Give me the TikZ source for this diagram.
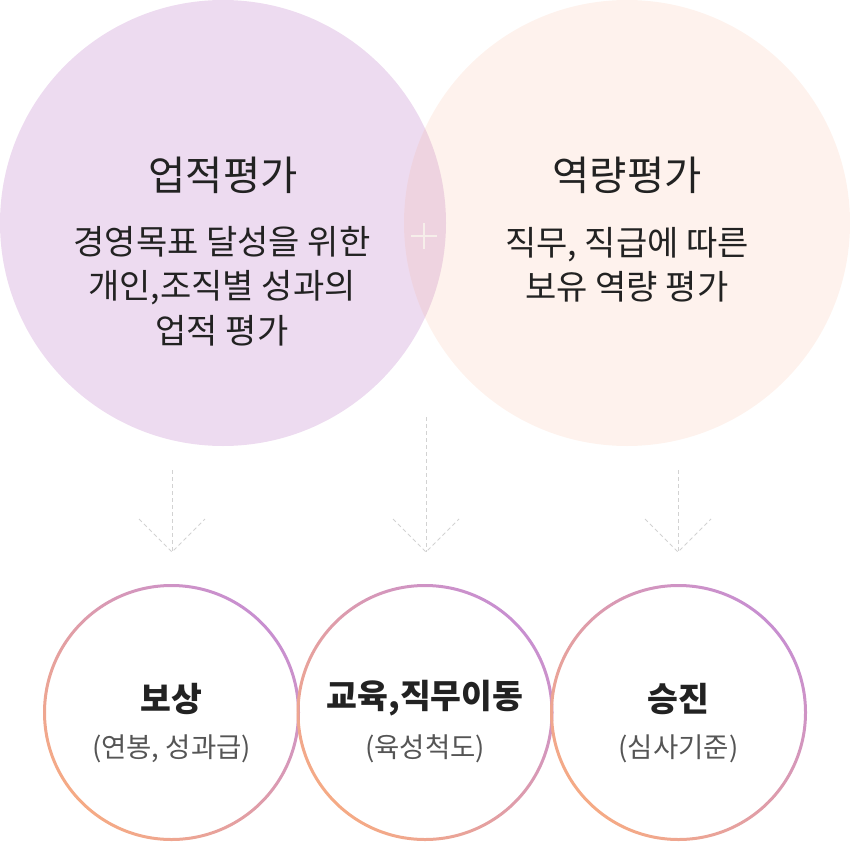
\documentclass[tikz,border=0pt]{standalone}
\usepackage{fontspec}
\newfontfamily\kr{Noto Sans CJK KR}
\usetikzlibrary{calc}
\definecolor{purp}{HTML}{C88FD0}
\definecolor{oran}{HTML}{F5AA85}
\definecolor{arrowgray}{HTML}{D2D2D2}
\definecolor{plusc}{HTML}{F6EEEA}
\definecolor{titlec}{HTML}{222222}
\definecolor{subc}{HTML}{555555}
\tikzset{
  bigtitle/.style={font=\kr\fontsize{40.5}{44}\selectfont, text=titlec, inner sep=0pt},
  bigbody/.style={font=\kr\fontsize{34}{44.5}\selectfont, text=titlec, align=center, inner sep=0pt},
  smalltitle/.style={font=\kr\bfseries\fontsize{33.5}{36}\selectfont, text=titlec, inner sep=0pt},
  smallsub/.style={font=\kr\fontsize{27.5}{30}\selectfont, text=subc, inner sep=0pt},
  dasharrow/.style={draw=arrowgray, line width=1pt, dash pattern=on 4pt off 3pt},
  ring/.style={even odd rule, top color=purp, bottom color=oran, shading angle=-45},
}
\begin{document}
\begin{tikzpicture}[x=1pt,y=-1pt]
\useasboundingbox (0,0) rectangle (850,842);
% big circles
\coordinate (L) at (223,223);
\coordinate (R) at (627,223);
\fill[purp, opacity=0.32] (L) circle (223);
\fill[oran, opacity=0.15] (R) circle (223);
% plus
\coordinate (P) at (424,236);
\draw[plusc, line width=2pt] ($(P)+(-13,0)$) -- ($(P)+(13,0)$) ($(P)+(0,-13)$) -- ($(P)+(0,13)$);
% texts top
\node[bigtitle] (t1) at (223,175) {업적평가};
\node[bigbody] (b1) at (222,286) {경영목표 달성을 위한\\개인,조직별 성과의\\업적 평가};
\node[bigtitle] (t2) at (627,175) {역량평가};
\node[bigbody] (b2) at (627,264.5) {직무, 직급에 따른\\보유 역량 평가};
% arrows
\coordinate (a1s) at (172,470); \coordinate (a1e) at (172,552);
\coordinate (a2s) at (426,417); \coordinate (a2e) at (426,552);
\coordinate (a3s) at (678,470); \coordinate (a3e) at (678,552);
\foreach \s/\e in {a1s/a1e,a2s/a2e,a3s/a3e}{
  \draw[dasharrow] (\s) -- (\e);
  \draw[dasharrow] ($(\e)+(-33,-33)$) -- (\e) -- ($(\e)+(33,-33)$);
}
% bottom circles
\coordinate (C1) at (171.5,712.5);
\coordinate (C2) at (425,712.5);
\coordinate (C3) at (678.5,712.5);
\foreach \c in {C1,C2,C3}{
  \shade[ring] (\c) circle (128.5) (\c) circle (125.5);
}
\node[smalltitle] (s1) at ($(C1)+(0,-14)$) {보상};
\node[smallsub] (u1) at ($(C1)+(0,36)$) {(연봉, 성과급)};
\node[smalltitle] (s2) at ($(C2)+(0,-14)$) {교육,직무이동};
\node[smallsub] (u2) at ($(C2)+(0,36)$) {(육성척도)};
\node[smalltitle] (s3) at ($(C3)+(0,-14)$) {승진};
\node[smallsub] (u3) at ($(C3)+(0,36)$) {(심사기준)};
\end{tikzpicture}
\end{document}
